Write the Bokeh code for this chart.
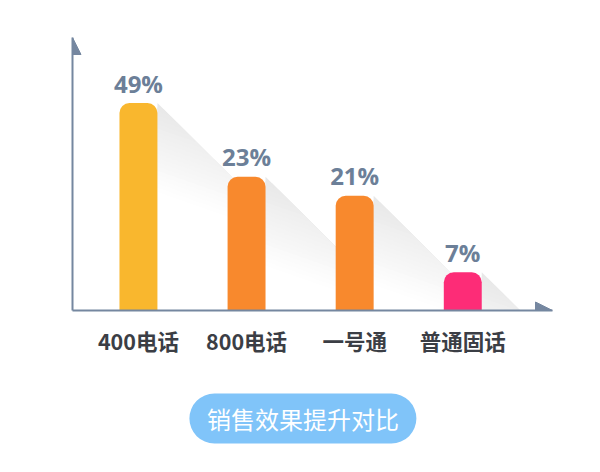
import math
from bokeh.plotting import figure
from bokeh.layouts import column
from bokeh.models import (Range1d, FixedTicker, Arrow, NormalHead, ColumnDataSource)
from bokeh.core.properties import value
from bokeh.embed import file_html
from bokeh.resources import INLINE

# ---- data ----
categories = ["400电话", "800电话", "一号通", "普通固话"]
percent_values = [49, 23, 21, 7]
percent_labels = ["49%", "23%", "21%", "7%"]
bar_heights = [38, 24.5, 21, 7]          # drawn heights
bar_colors = ["#f9b72e", "#f8892d", "#f8892d", "#fd2c77"]
chart_title = "销售效果提升对比"

AXIS = "#7587a0"
W, H = 584, 380
BL, BR, BT, BB = 72, 32, 37, 70
x0, x1 = -0.61, 3.83
y0, y1 = 0, 50
bar_w = 0.351

p = figure(width=W, height=H, output_backend="svg", toolbar_location=None,
           x_range=Range1d(x0, x1), y_range=Range1d(y0, y1),
           min_border_left=BL, min_border_right=BR, min_border_top=BT, min_border_bottom=BB)
p.outline_line_color = None
p.grid.visible = False
p.background_fill_color = "white"
p.border_fill_color = "white"

xs = list(range(len(categories)))

# ---- long shadows: linear gradient per bar, computed from bar data and scales ----
fw = W - BL - BR
fh = H - BT - BB
px_x = fw / (x1 - x0)
px_y = fh / (y1 - y0)

ux, uy = -0.35, 1.0
n = math.hypot(ux, uy)
ux, uy = ux / n, uy / n
levels = 22
L = 88.0
dark = 232


def clip(poly, c):
    # keep part of polygon with ux*x + uy*y >= c (pixel coords, y down)
    out = []
    m = len(poly)
    for j in range(m):
        a = poly[j]
        b = poly[(j + 1) % m]
        fa = ux * a[0] + uy * a[1] - c
        fb = ux * b[0] + uy * b[1] - c
        if fa >= 0:
            out.append(a)
        if (fa >= 0) != (fb >= 0):
            t = fa / (fa - fb)
            out.append((a[0] + t * (b[0] - a[0]), a[1] + t * (b[1] - a[1])))
    return out


sx, sy, sc = [], [], []
for i, h in enumerate(bar_heights):
    xr = xs[i] + bar_w / 2
    hp = h * px_y
    tri = [(0.0, 0.0), (hp, hp), (0.0, hp)]
    for k in range(levels):
        c = k * L / levels
        poly = clip(tri, c)
        if len(poly) < 3:
            break
        sx.append([xr + q[0] / px_x for q in poly])
        sy.append([h - q[1] / px_y for q in poly])
        g = int(round(dark + (255 - dark) * k / (levels - 1)))
        sc.append("#%02x%02x%02x" % (g, g, g))
p.patches(sx, sy, fill_color=sc, line_color=None)

# ---- bars ----
src = ColumnDataSource(dict(x=xs, top=bar_heights, color=bar_colors, label=percent_labels))
p.vbar(x="x", top="top", bottom=0, width=bar_w, fill_color="color", line_color=None,
       border_radius=(10, 10, 0, 0), source=src)

p.text(x="x", y="top", text="label", source=src, y_offset=-20,
       text_align="center", text_baseline="alphabetic",
       text_font=value("Open Sans"), text_font_style="bold",
       text_font_size="24px", text_color="#6c7f98")

# ---- axes ----
xa = p.xaxis[0]
xa.ticker = FixedTicker(ticks=xs)
xa.major_label_overrides = {i: c for i, c in zip(xs, categories)}
xa.major_tick_line_color = None
xa.minor_tick_line_color = None
xa.axis_line_color = AXIS
xa.axis_line_width = 2
xa.major_label_text_font = "Noto Sans CJK SC"
xa.major_label_text_font_style = "bold"
xa.major_label_text_font_size = "21.5px"
xa.major_label_text_color = "#3b3e45"
xa.major_label_standoff = 8

ya = p.yaxis[0]
ya.ticker = FixedTicker(ticks=[])
ya.major_tick_line_color = None
ya.minor_tick_line_color = None
ya.axis_line_color = AXIS
ya.axis_line_width = 2

p.add_layout(Arrow(end=NormalHead(size=17, fill_color=AXIS, line_color=AXIS),
                   x_start=x0, y_start=y0, x_end=x0, y_end=y1, line_alpha=0))
p.add_layout(Arrow(end=NormalHead(size=17, fill_color=AXIS, line_color=AXIS),
                   x_start=x0, y_start=y0, x_end=x1, y_end=y0, line_alpha=0))

# ---- title pill (separate small figure below the chart) ----
p2 = figure(width=W, height=76, output_backend="svg", toolbar_location=None,
            x_range=Range1d(-0.96, 1.04), y_range=Range1d(-1, 1),
            x_axis_location=None, y_axis_location=None,
            min_border_left=0, min_border_right=0, min_border_top=0, min_border_bottom=0)
p2.outline_line_color = None
p2.grid.visible = False
p2.rect(x=[0], y=[0], width=227, height=50, width_units="screen", height_units="screen",
        fill_color="#80c4f9", line_color=None, border_radius=25)
p2.text(x=[0], y=[0], text=[chart_title], text_align="center", text_baseline="middle",
        text_font=value("Noto Sans CJK SC"), text_font_size="24px", text_color="white")

layout = column(p, p2, spacing=0)
open("out.html", "w").write(file_html(layout, INLINE))
